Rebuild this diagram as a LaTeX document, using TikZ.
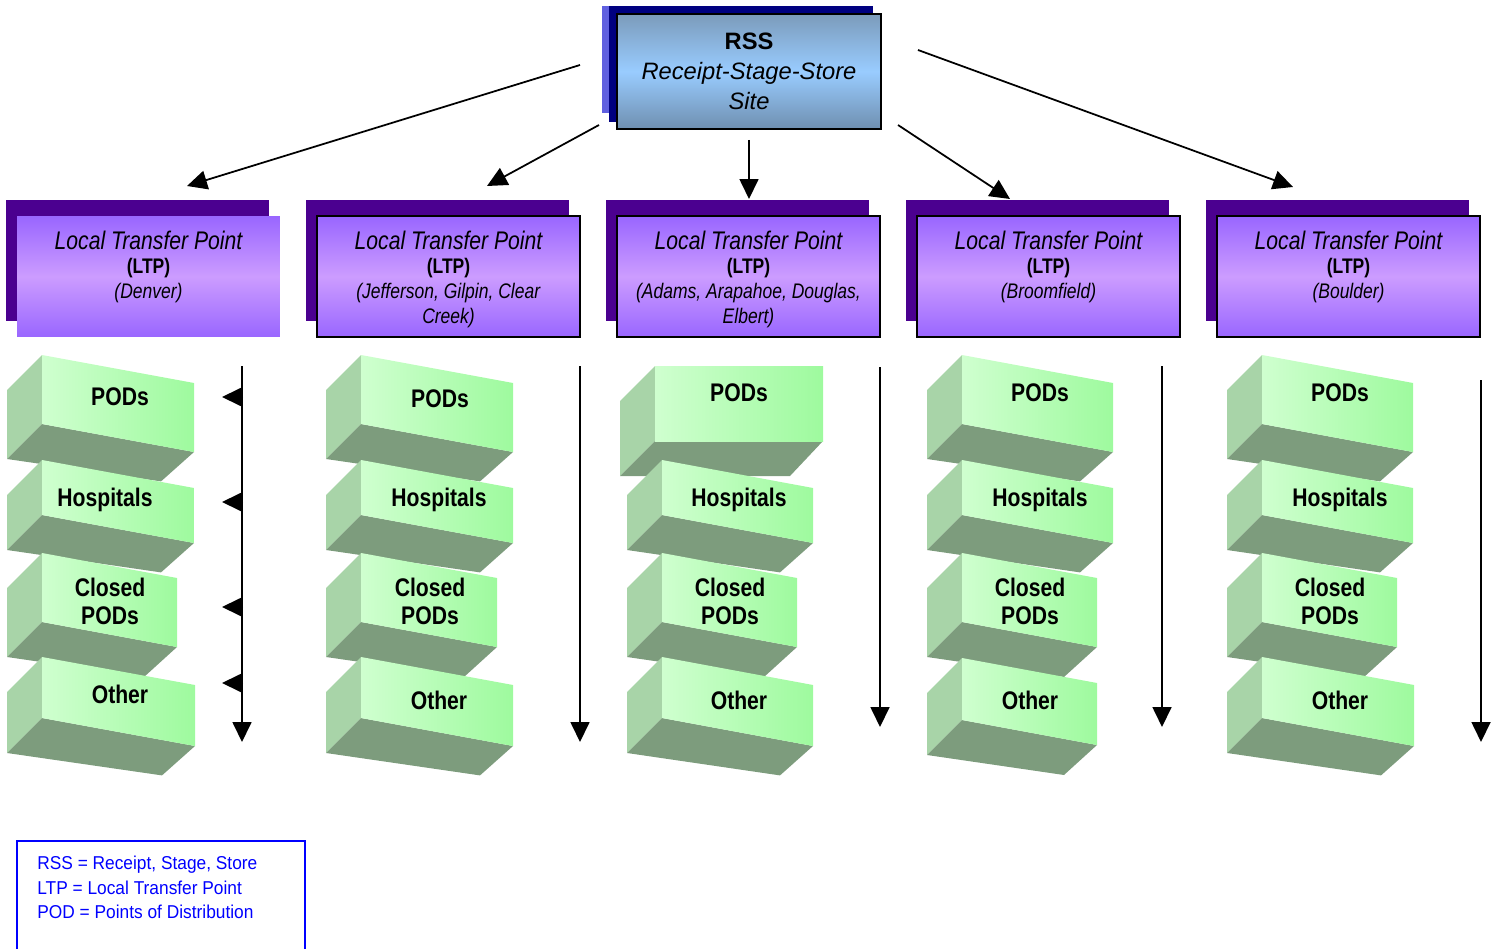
\documentclass[tikz,border=0pt]{standalone}
\usepackage{fontspec}
\setmainfont{Liberation Sans}
\newfontfamily\narrowfont{Liberation Sans}[FakeStretch=0.83]
\newfontfamily\legendfont{Liberation Sans}[FakeStretch=0.93]
\usetikzlibrary{arrows.meta,positioning}

\definecolor{rssnavy}{HTML}{000080}
\definecolor{rssback}{HTML}{6060E0}
\definecolor{rsstop}{HTML}{7B9BBB}
\definecolor{rssmid}{HTML}{99CCFF}
\definecolor{rssbot}{HTML}{6F8FB0}
\definecolor{ltpshadow}{HTML}{4B0090}
\definecolor{ltpedge}{HTML}{9966FF}
\definecolor{ltpmid}{HTML}{CC9CFF}
\definecolor{podlight}{HTML}{CFFFCF}
\definecolor{podgreen}{HTML}{9EFA9E}
\definecolor{podside}{HTML}{A8D4A8}
\definecolor{podbottom}{HTML}{7D9C7D}

% x, y, width, height, skew
\newcommand\podblock[5]{%
  \fill[podside] (#1,#2) -- (#1-35,#2+35) -- (#1-35,#2+#4+35) -- (#1,#2+#4) -- cycle;
  \fill[podbottom] (#1,#2+#4) -- (#1+#3,#2+#4+#5) -- (#1+#3-33,#2+#4+#5+35-0.2*#5) -- (#1-35,#2+#4+35) -- cycle;
  \shade[left color=podlight, right color=podgreen] (#1,#2) -- (#1+#3,#2+#5) -- (#1+#3,#2+#4+#5) -- (#1,#2+#4) -- cycle;
}

\begin{document}
\begin{tikzpicture}[
    x=0.02cm, y=-0.02cm,
    >={Triangle[length=0.4cm,width=0.38cm]},
    rssbox/.style={draw=black, line width=0.9pt, top color=rsstop, bottom color=rssbot, middle color=rssmid, minimum width=5.28cm, minimum height=2.3cm, align=center, font=\fontsize{13.5}{17}\selectfont},
    ltpbox/.style={line width=0.9pt, top color=ltpedge, bottom color=ltpedge, middle color=ltpmid, minimum width=5.26cm, minimum height=2.42cm, inner sep=0pt},
    ltptext/.style={align=center, inner sep=0pt, font=\narrowfont\fontsize{12}{14.2}\selectfont},
    podtext/.style={align=center, inner sep=0pt, font=\narrowfont\bfseries\fontsize{14.5}{16}\selectfont},
    flow/.style={->, line width=1pt},
    legendtext/.style={align=left, anchor=north west, inner sep=0pt, text=blue, font=\legendfont\fontsize{10.6}{13.9}\selectfont}
]
\useasboundingbox (0,0) rectangle (1500,949);

% RSS site
\fill[rssback] (602,6) rectangle (866,113);
\fill[rssnavy] (609,6) rectangle (873,122);
\node[rssbox] (rss) at (749,71.5) {\textbf{RSS}\\\textit{Receipt-Stage-Store}\\\textit{Site}};

% local transfer points
\foreach \k/\edge/\place in {0/none/{\textit{(Denver)}},
    1/black/{\textit{(Jefferson, Gilpin, Clear}\\\textit{Creek)}},
    2/black/{\textit{(Adams, Arapahoe, Douglas,}\\\textit{Elbert)}},
    3/black/{\textit{(Broomfield)}},
    4/black/{\textit{(Boulder)}}}{
  \fill[ltpshadow] (6+300*\k,200) rectangle (269+300*\k,321);
  \node[ltpbox, draw=\edge] (ltp\k) at (148.5+300*\k,276.5) {};
  \node[ltptext, below=0.3cm of ltp\k.north] (ltp\k-text) {{\fontsize{14.5}{14.2}\selectfont\itshape Local Transfer Point}\\{\fontsize{12}{14.2}\selectfont\bfseries (LTP)}\\\place};
}

\foreach \k/\sx/\sy/\ex/\ey in {0/580/65/187/186, 1/599/125/487/186, 2/749/140/749/199, 3/898/125/1010/199, 4/918/50/1293/187}{
  \coordinate (rss-out\k) at (\sx,\sy);
  \coordinate (ltp\k-in) at (\ex,\ey);
  \draw[flow] (rss-out\k) -- (ltp\k-in);
}

% points of distribution
\foreach \bx/\by/\bw/\bh/\bs/\nm/\tx/\ty/\txt in {
    42/355/152/69/28/pods0/120/397/PODs, 42/460/152/55/28/hosp0/105/500/Hospitals,
    42/553/135/69/25/closed0/110/601/{Closed\\PODs}, 42/657/153/61/28/other0/120/694/Other,
    361/355/152/69/28/pods1/440/399/PODs, 361/460/152/55/28/hosp1/439/500/Hospitals,
    361/553/136/69/25/closed1/430/601/{Closed\\PODs}, 361/657/152/61/28/other1/439/700/Other,
    655/366/168/75/0/pods2/739/393/PODs, 662/460/151/55/28/hosp2/739/500/Hospitals,
    662/553/135/69/25/closed2/730/601/{Closed\\PODs}, 662/657/151/61/28/other2/739/700/Other,
    962/355/151/69/28/pods3/1040/393/PODs, 962/460/151/55/28/hosp3/1040/500/Hospitals,
    962/553/135/69/25/closed3/1030/601/{Closed\\PODs}, 962/658/135/62/25/other3/1030/700/Other,
    1262/355/151/69/28/pods4/1340/393/PODs, 1262/460/151/55/28/hosp4/1340/500/Hospitals,
    1262/553/135/69/25/closed4/1330/601/{Closed\\PODs}, 1262/657/152/61/28/other4/1340/700/Other}{
  \podblock{\bx}{\by}{\bw}{\bh}{\bs}
  \node[podtext] (\nm) at (\tx,\ty) {\txt};
}

\foreach \k/\lx/\ly/\ey in {0/242/366/742, 1/580/366/742, 2/880/367/727, 3/1162/366/727, 4/1481/380/742}{
  \coordinate (list\k-top) at (\lx,\ly);
  \coordinate (list\k-end) at (\lx,\ey);
  \draw[flow] (list\k-top) -- (list\k-end);
}
\foreach \i/\ty in {1/397, 2/502, 3/607, 4/683}{
  \coordinate (hit\i) at (243,\ty);
  \draw[flow] (hit\i) -- ++(-21,0);
}

% legend
\draw[blue, line width=1.1pt] (17,960) -- (17,841) -- (305,841) -- (305,960);
\node[legendtext] (legend) at (37,856) {RSS = Receipt, Stage, Store\\LTP = Local Transfer Point\\POD = Points of Distribution};
\end{tikzpicture}
\end{document}
